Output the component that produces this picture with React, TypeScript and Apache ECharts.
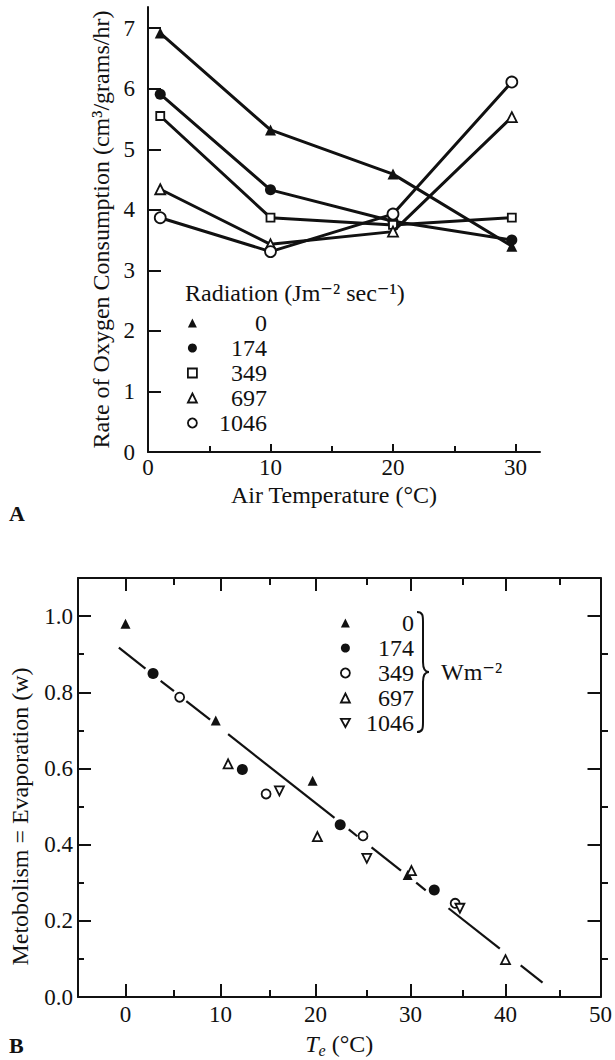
import React, { useEffect, useRef } from 'react';
import * as echarts from 'echarts';

const FONT = '"Liberation Serif", "DejaVu Serif", serif';

// ---------- Panel A ----------
const airTemp = [1, 10, 20, 29.7];
const radiationA = ['0', '174', '349', '697', '1046'];
const o2Rad0 = [6.92, 5.32, 4.59, 3.4];
const o2Rad174 = [5.91, 4.33, 3.81, 3.5];
const o2Rad349 = [5.55, 3.87, 3.75, 3.87];
const o2Rad697 = [4.34, 3.43, 3.64, 5.53];
const o2Rad1046 = [3.87, 3.31, 3.93, 6.11];
const yLabelsA = [0, 1, 2, 3, 4, 5, 6, 7];
const yTicksA = [1, 2, 3, 4, 5, 6, 7];
const xLabelsA = [0, 10, 20, 30];
const xTicksA = [10, 20, 30];
const xMinorA = [5, 15, 25];

// ---------- Panel B ----------
const radiationB = ['0', '174', '349', '697', '1046'];
const teRad0 = [0, 9.5, 19.7, 29.7];
const meRad0 = [0.98, 0.726, 0.568, 0.32];
const teRad174 = [2.9, 12.3, 22.6, 32.5];
const meRad174 = [0.849, 0.597, 0.452, 0.281];
const teRad349 = [5.7, 14.8, 25.0, 34.7];
const meRad349 = [0.787, 0.533, 0.423, 0.246];
const teRad697 = [10.8, 20.2, 30.1, 40.0];
const meRad697 = [0.612, 0.421, 0.332, 0.098];
const teRad1046 = [16.2, 25.4, 35.2];
const meRad1046 = [0.541, 0.364, 0.233];
// fitted line, drawn in pieces (broken around the markers)
const fitSegX = [[-0.7, 2.1], [3.7, 5.1], [6.4, 8.9], [10.8, 22.0], [23.5, 24.4], [25.9, 29.0], [30.6, 31.6], [34.0, 39.4], [41.6, 43.9]];
const fitSegY = [[0.917, 0.862], [0.83, 0.803], [0.777, 0.728], [0.69, 0.47], [0.44, 0.422], [0.393, 0.332], [0.3, 0.28], [0.233, 0.127], [0.083, 0.038]];
const yLabelsB = [0, 0.2, 0.4, 0.6, 0.8, 1.0];
const yTicksB = [0.2, 0.4, 0.6, 0.8, 1.0];
const yMinorB = [0.1, 0.3, 0.5, 0.7, 0.9];
const xLabelsB = [0, 10, 20, 30, 40, 50];
const xTicksB = [0, 10, 20, 30, 40];
const xMinorB = [5, 15, 25, 35, 45];

let braceRegistered = false;
function registerBrace() {
  if (braceRegistered) return;
  braceRegistered = true;
  const d = 'M0,0 C6,0 6,4 6,10 L6,50 C6,57 8,60 12,60 C8,60 6,63 6,70 L6,110 C6,116 6,120 0,120';
  echarts.graphic.registerShape('brace', echarts.graphic.extendPath(d, {}) as any);
}

const BLACK = '#111';
const filled = { color: BLACK, borderColor: BLACK, borderWidth: 0, opacity: 1 };
const open = { color: '#fff', borderColor: BLACK, borderWidth: 1.8, opacity: 1 };
const downTri = 'path://M0,0L10,0L5,9Z';

const GA = { left: 148, top: 7, width: 392, height: 445 };
const GB = { left: 77, top: 578, width: 531, height: 419 };

const TICK = 23;
const TITLE = 24;
const txt = { fontFamily: FONT, color: BLACK };

function axisBase(extra: any) {
  return {
    type: 'value',
    splitLine: { show: false },
    axisLine: { show: true, onZero: false, lineStyle: { color: BLACK, width: 2 } },
    ...extra,
  };
}

export default function App() {
  const ref = useRef<HTMLDivElement>(null);
  useEffect(() => {
    if (!ref.current) return;
    registerBrace();
    const chart = echarts.init(ref.current, null, { renderer: 'svg' });

    const aNames = radiationA.map((r) => `${r} Jm⁻² sec⁻¹`);
    const bNames = radiationB.map((r) => `${r} Wm⁻²`);
    const aVals = [o2Rad0, o2Rad174, o2Rad349, o2Rad697, o2Rad1046];
    const aSym = ['triangle', 'circle', 'rect', 'triangle', 'circle'];
    const aSize = [11, 11, 8, 10, 11];
    const aStyle = [filled, filled, open, open, open];

    const bX = [teRad0, teRad174, teRad349, teRad697, teRad1046];
    const bY = [meRad0, meRad174, meRad349, meRad697, meRad1046];
    const bSym = ['triangle', 'circle', 'circle', 'triangle', downTri];
    const bSize = [10, 11, 9, 9, 9];
    const bStyle = [filled, filled, open, open, open];

    const seriesA = aNames.map((name, k) => ({
      name,
      type: 'line',
      xAxisIndex: 0,
      yAxisIndex: 0,
      data: airTemp.map((x, i) => [x, aVals[k][i]]),
      symbol: aSym[k],
      symbolSize: aSize[k],
      showAllSymbol: true,
      lineStyle: { color: BLACK, width: 3 },
      itemStyle: aStyle[k],
      z: 3 + k,
    }));

    const seriesB = bNames.map((name, k) => ({
      name,
      type: 'scatter',
      xAxisIndex: 2,
      yAxisIndex: 2,
      data: bX[k].map((x, i) => [x, bY[k][i]]),
      symbol: bSym[k],
      symbolSize: bSize[k],
      itemStyle: bStyle[k],
      z: 5,
    }));

    const fitSeries = {
      name: 'fit',
      type: 'lines',
      coordinateSystem: 'cartesian2d',
      xAxisIndex: 2,
      yAxisIndex: 2,
      data: fitSegX.map((xs, i) => ({ coords: [[xs[0], fitSegY[i][0]], [xs[1], fitSegY[i][1]]] })),
      lineStyle: { color: BLACK, width: 2.2, opacity: 1 },
      silent: true,
      z: 2,
    };

    const legendCommon = {
      orient: 'vertical',
      itemWidth: 9,
      itemHeight: 9,
      selectedMode: false,
      padding: 0,
      itemGap: 1,
    };

    const option: any = {
      animation: false,
      backgroundColor: '#fff',
      textStyle: { fontFamily: FONT },
      grid: [GA, { ...GA }, GB, { ...GB }],
      xAxis: [
        axisBase({
          gridIndex: 0, min: 0, max: 32, position: 'bottom',
          axisTick: { show: true, inside: true, length: 8, customValues: xTicksA, lineStyle: { color: BLACK, width: 2 } },
          axisLabel: { customValues: xLabelsA, margin: 4, fontSize: TICK, ...txt },
          name: 'Air Temperature (°C)', nameLocation: 'middle', nameGap: 31,
          nameTextStyle: { fontSize: TITLE, ...txt, padding: [0, 20, 0, 0] },
        }),
        axisBase({
          gridIndex: 1, min: 0, max: 32, position: 'bottom',
          axisLine: { show: false, onZero: false },
          axisTick: { show: true, inside: true, length: 6, customValues: xMinorA, lineStyle: { color: BLACK, width: 2 } },
          axisLabel: { show: false },
        }),
        axisBase({
          gridIndex: 2, min: -5, max: 50, position: 'bottom',
          axisTick: { show: true, inside: true, length: 13, customValues: xTicksB, lineStyle: { color: BLACK, width: 2 } },
          axisLabel: { customValues: xLabelsB, margin: 6, fontSize: TICK, ...txt },
          name: '{i|T}{s|e} (°C)', nameLocation: 'middle', nameGap: 33,
          nameTextStyle: {
            fontSize: TITLE, ...txt,
            rich: {
              i: { fontStyle: 'italic', fontSize: TITLE, ...txt },
              s: { fontStyle: 'italic', fontSize: 16, ...txt, padding: [12, 0, 0, 0] },
            },
          },
        }),
        axisBase({
          gridIndex: 2, min: -5, max: 50, position: 'top',
          axisTick: { show: true, inside: true, length: 13, customValues: xTicksB, lineStyle: { color: BLACK, width: 2 } },
          axisLabel: { show: false },
        }),
        axisBase({
          gridIndex: 3, min: -5, max: 50, position: 'bottom',
          axisLine: { show: false, onZero: false },
          axisTick: { show: true, inside: true, length: 7, customValues: xMinorB, lineStyle: { color: BLACK, width: 2 } },
          axisLabel: { show: false },
        }),
        axisBase({
          gridIndex: 3, min: -5, max: 50, position: 'top',
          axisLine: { show: false, onZero: false },
          axisTick: { show: true, inside: true, length: 7, customValues: xMinorB, lineStyle: { color: BLACK, width: 2 } },
          axisLabel: { show: false },
        }),
      ],
      yAxis: [
        axisBase({
          gridIndex: 0, min: 0, max: 7.35, position: 'left',
          axisTick: { show: true, inside: true, length: 13, customValues: yTicksA, lineStyle: { color: BLACK, width: 2 } },
          axisLabel: { customValues: yLabelsA, margin: 13, fontSize: TICK, ...txt },
          name: 'Rate of Oxygen Consumption (cm³/grams/hr)', nameLocation: 'middle', nameGap: 34,
          nameTextStyle: { fontSize: TITLE, ...txt },
        }),
        axisBase({ gridIndex: 1, min: 0, max: 7.35, show: false }),
        axisBase({
          gridIndex: 2, min: 0, max: 1.1, position: 'left',
          axisTick: { show: true, inside: true, length: 13, customValues: yTicksB, lineStyle: { color: BLACK, width: 2 } },
          axisLabel: { customValues: yLabelsB, margin: 5, fontSize: TICK, ...txt, formatter: (v: number) => v.toFixed(1) },
          name: 'Metobolism = Evaporation (w)', nameLocation: 'middle', nameGap: 46,
          nameTextStyle: { fontSize: TITLE, ...txt, padding: [0, 58, 0, 0] },
        }),
        axisBase({
          gridIndex: 2, min: 0, max: 1.1, position: 'right',
          axisTick: { show: true, inside: true, length: 13, customValues: yTicksB, lineStyle: { color: BLACK, width: 2 } },
          axisLabel: { show: false },
        }),
        axisBase({
          gridIndex: 3, min: 0, max: 1.1, position: 'left',
          axisLine: { show: false, onZero: false },
          axisTick: { show: true, inside: true, length: 7, customValues: yMinorB, lineStyle: { color: BLACK, width: 2 } },
          axisLabel: { show: false },
        }),
        axisBase({
          gridIndex: 3, min: 0, max: 1.1, position: 'right',
          axisLine: { show: false, onZero: false },
          axisTick: { show: true, inside: true, length: 7, customValues: yMinorB, lineStyle: { color: BLACK, width: 2 } },
          axisLabel: { show: false },
        }),
      ],
      legend: [
        {
          ...legendCommon,
          left: 187,
          top: 311,
          data: aNames.map((name, k) => ({ name, icon: aSym[k], itemStyle: aStyle[k] })),
          formatter: (n: string) => `{n|${n.split(' ')[0]}}`,
          textStyle: {
            ...txt, fontSize: TITLE,
            rich: { n: { width: 65, align: 'right', fontSize: TITLE, lineHeight: 20, ...txt } },
          },
        },
        {
          ...legendCommon,
          left: 340,
          top: 611,
          data: bNames.map((name, k) => ({ name, icon: bSym[k], itemStyle: bStyle[k] })),
          formatter: (n: string) => `{n|${n.split(' ')[0]}}`,
          textStyle: {
            ...txt, fontSize: TITLE,
            rich: { n: { width: 59, align: 'right', fontSize: TITLE, lineHeight: 20, ...txt } },
          },
        },
      ],
      graphic: [
        { type: 'text', x: 185, y: 293, style: { text: 'Radiation (Jm⁻² sec⁻¹)', fontSize: TITLE, fontFamily: FONT, fill: BLACK, verticalAlign: 'middle' } },
        { type: 'brace', x: 417, y: 612, style: { stroke: BLACK, fill: 'none', lineWidth: 2 } },
        { type: 'text', x: 441, y: 672, style: { text: 'Wm⁻²', fontSize: TITLE, fontFamily: FONT, fill: BLACK, verticalAlign: 'middle' } },
        { type: 'text', x: 9, y: 513, style: { text: 'A', fontSize: 22, fontWeight: 'bold', fontFamily: FONT, fill: BLACK, verticalAlign: 'middle' } },
        { type: 'text', x: 9, y: 1045, style: { text: 'B', fontSize: 22, fontWeight: 'bold', fontFamily: FONT, fill: BLACK, verticalAlign: 'middle' } },
      ],
      series: [...seriesA, ...seriesB, fitSeries],
    };
    chart.setOption(option);
    return () => chart.dispose();
  }, []);
  return <div ref={ref} style={{ position: 'absolute', left: 0, top: 0, width: 615, height: 1060, background: '#fff' }} />;
}
